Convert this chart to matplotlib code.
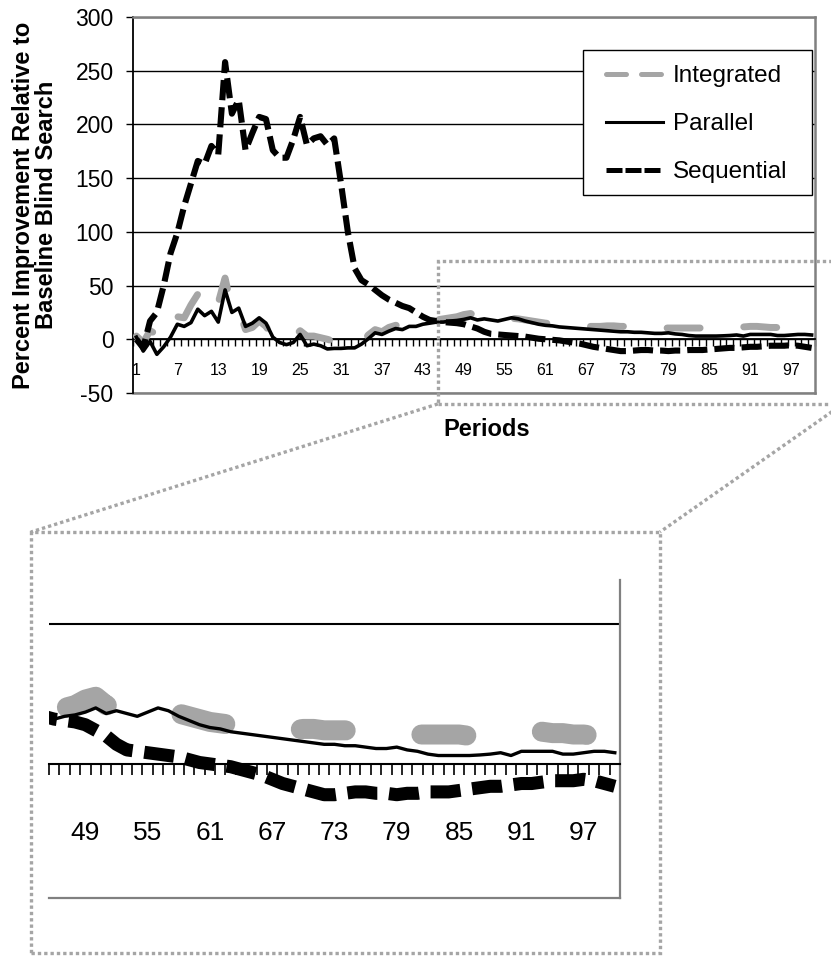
import numpy as np
import matplotlib
matplotlib.use("Agg")
import matplotlib.pyplot as plt
from matplotlib.lines import Line2D
from matplotlib.patches import Rectangle

plt.rcParams['font.family'] = ['Liberation Sans', 'DejaVu Sans']
plt.rcParams['axes.unicode_minus'] = False

# data (periods 1..100)
periods = np.arange(1, 101)

integrated = [3, -3, 8, 4.5, -1.5, 3, 21, 20, 32, 42,
              23, 27, 34, 57, 28, 28, 9, 11, 17, 12,
              1.5, -3, -4, 1.5, 8, 3, 3, 1.5, 0, -2,
              -5, -7, -7, -4, 4, 9, 7, 11, 13, 13,
              12, 13, 15, 16, 18, 19, 20, 21, 23, 24,
              21, 20, 19, 19, 19, 19.5, 19, 18, 17, 16,
              15, 14.5, 14, 13.5, 13, 12.5, 12, 12, 12, 12.5,
              12.5, 12, 12, 12, 11.5, 11, 11, 10.5, 10.5, 10.5,
              10.5, 10.5, 10.5, 10.5, 10.5, 10, 10, 10.5, 11, 11.5,
              12, 12, 11.5, 11, 11, 10.5, 10.5, 10, 10, 10]

parallel = [2, -11, -2, -14, -7, 2, 14, 12, 15.5, 28,
            22, 26, 16, 46, 25, 29, 12, 15, 20, 15,
            2, -3, -5, -3, 4.5, -6, -4.5, -6, -9, -8.5,
            -8.5, -8, -8, -4.5, 0.5, 6, 4.5, 7.5, 10, 9,
            12, 12, 14, 15, 16, 16, 17, 17.5, 18.5, 20,
            18, 19, 18, 17, 18.5, 20, 19, 17, 15.5, 14,
            13, 12.5, 11.5, 11, 10.5, 10, 9.5, 9, 8.5, 8,
            7.5, 7, 7, 6.5, 6.5, 6, 5.5, 5.5, 6, 5,
            4.5, 3.5, 3, 3, 3, 3, 3.2, 3.5, 4, 3,
            4.5, 4.5, 4.5, 4.5, 3.5, 3.5, 4, 4.5, 4.5, 4]

sequential = [0, -8, 17, 25, 50, 80, 99, 124, 145, 166,
              163, 180, 172, 258, 210, 223, 176, 192, 207, 205,
              176, 169, 169, 186, 207, 181, 187, 189, 181, 187,
              145, 100, 66, 55, 51, 46, 41, 37, 34, 31,
              29, 25, 21, 18, 17, 16, 15.5, 15, 14, 12,
              10, 7, 5, 4.5, 4, 3.5, 3, 2.5, 1.5, 0.5,
              0, -0.5, -1, -2, -3, -4, -5.5, -7, -8, -9,
              -10, -11, -11, -10.5, -10, -10, -10.5, -10.5, -11, -10.5,
              -10.5, -10, -10, -10, -9.5, -9, -8.5, -8, -8, -7.5,
              -7, -7, -6.5, -6, -6, -6, -5.5, -6, -7, -8]

labels = ['Integrated', 'Parallel', 'Sequential']
y_ticks = list(range(-50, 301, 50))
x_ticks = list(range(1, 101, 6))
zoom_ticks = list(range(49, 101, 6))

W, H = 831, 959
GRAY = '#a5a5a5'
FRAME = '#808080'


def fx(px):
    return px / W


def fy(py):
    return 1 - py / H


fig = plt.figure(figsize=(W / 100, H / 100), dpi=100)

# ---- main chart ----
ax = fig.add_axes([fx(133), fy(393), fx(815) - fx(133), fy(17) - fy(393)])
ax.plot(periods, integrated, color=GRAY, lw=5, linestyle=(1.0, (4.75, 6.3)),
        dash_capstyle='round', solid_capstyle='round', zorder=3)
ax.plot(periods, parallel, color='black', lw=2.6, zorder=4)
ax.plot(periods, sequential, color='black', lw=4.4, dashes=(3.3, 1.15),
        dash_capstyle='butt', zorder=5)

ax.set_xlim(0.5, 100.5)
ax.set_ylim(-50, 300)
ax.set_yticks(y_ticks)
ax.set_xticks(x_ticks)
ax.set_xticks(np.arange(0.5, 101, 1), minor=True)
ax.tick_params(axis='y', length=5, width=1, direction='out', labelsize=16.5, pad=9)
ax.tick_params(axis='x', which='major', length=0, labelsize=11.5, pad=17)
ax.tick_params(axis='x', which='minor', length=5, width=1, direction='out')
ax.yaxis.grid(True, color='black', lw=1)
ax.set_axisbelow(True)

ax.spines['bottom'].set_position(('data', 0))
ax.spines['bottom'].set_color('black')
ax.spines['bottom'].set_linewidth(1.3)
ax.spines['left'].set_color('black')
ax.spines['left'].set_linewidth(1.3)
for s in ['top', 'right']:
    ax.spines[s].set_color(FRAME)
    ax.spines[s].set_linewidth(1.8)
ax.axhline(-50, color=FRAME, lw=1.8, clip_on=False, zorder=2.5)

fig.text(fx(35), fy(205), 'Percent Improvement Relative to\nBaseline Blind Search',
         rotation=90, ha='center', va='center', fontsize=17, fontweight='bold',
         linespacing=1.0, multialignment='center')
fig.text(fx(487), fy(430), 'Periods', ha='center', va='center',
         fontsize=17, fontweight='bold')

# legend: box drawn separately so its padding can differ from row spacing
ax.add_patch(Rectangle((fx(583), fy(195)), fx(812) - fx(583), fy(50) - fy(195),
                       transform=fig.transFigure, facecolor='white',
                       edgecolor='black', lw=1.0, clip_on=False, zorder=9))
handles = [
    Line2D([], [], color=GRAY, lw=3.6, dashes=(4, 3), dash_capstyle='round'),
    Line2D([], [], color='black', lw=2.2),
    Line2D([], [], color='black', lw=3.6, dashes=(3.2, 0.6)),
]
leg = ax.legend(handles, labels, loc='upper left',
                bbox_to_anchor=(fx(606), fy(65)), bbox_transform=fig.transFigure,
                borderaxespad=0, borderpad=0, fontsize=17.5, handlelength=2.35,
                handletextpad=0.4, labelspacing=1.07, frameon=False)
leg.set_zorder(10)

# ---- zoomed view ----
zx0, zx1 = 45.2, 104.6
zy0, zy1 = -60.2, 72.9
dot = (0, (1, 0.9))
ax.add_patch(Rectangle((zx0, zy0), zx1 - zx0, zy1 - zy0, fill=False,
                       edgecolor=GRAY, lw=2.4, linestyle=dot, clip_on=False, zorder=12))

ix0, iy0, ix1, iy1 = 31, 532, 660, 953
fig.add_artist(Rectangle((fx(ix0), fy(iy1)), fx(ix1) - fx(ix0), fy(iy0) - fy(iy1),
                         transform=fig.transFigure, fill=False, edgecolor=GRAY,
                         lw=2.4, linestyle=dot))
to_fig = ax.transData + fig.transFigure.inverted()
for xa, xb in [(zx0, ix0), (zx1, ix1)]:
    pa = to_fig.transform((xa, zy0))
    fig.add_artist(Line2D([pa[0], fx(xb)], [pa[1], fy(iy0)], transform=fig.transFigure,
                          color=GRAY, lw=2.4, linestyle=dot))

axz = fig.add_axes([fx(49), fy(898), fx(620) - fx(49), fy(580) - fy(898)])
axz.plot(periods, integrated, color=GRAY, lw=14.4, linestyle=(2.43, (2.25, 3.8)),
         dash_capstyle='round', zorder=3)
axz.plot(periods, parallel, color='black', lw=2.4, zorder=4)
axz.plot(periods, sequential, color='black', lw=9.4, dashes=(2.3, 0.9),
         dash_capstyle='butt', zorder=5)
axz.set_xlim(45.74, 100.5)
axz.set_ylim(-47.9, 65.7)
axz.set_xticks(zoom_ticks)
axz.set_xticks(np.arange(45.5, 101, 1), minor=True)
axz.set_yticks([])
axz.tick_params(axis='x', which='major', length=0, pad=41, labelsize=19)
axz.tick_params(axis='x', which='minor', length=8, width=1.2, direction='out')
axz.axhline(50, color='black', lw=1.5, zorder=1)
axz.spines['bottom'].set_position(('data', 0))
axz.spines['bottom'].set_color('black')
axz.spines['bottom'].set_linewidth(1.5)
axz.spines['left'].set_visible(False)
axz.spines['top'].set_visible(False)
axz.spines['right'].set_color(FRAME)
axz.spines['right'].set_linewidth(1.6)
axz.axhline(-47.9, color=FRAME, lw=1.6, clip_on=False)

fig.savefig('out.png', dpi=100)
